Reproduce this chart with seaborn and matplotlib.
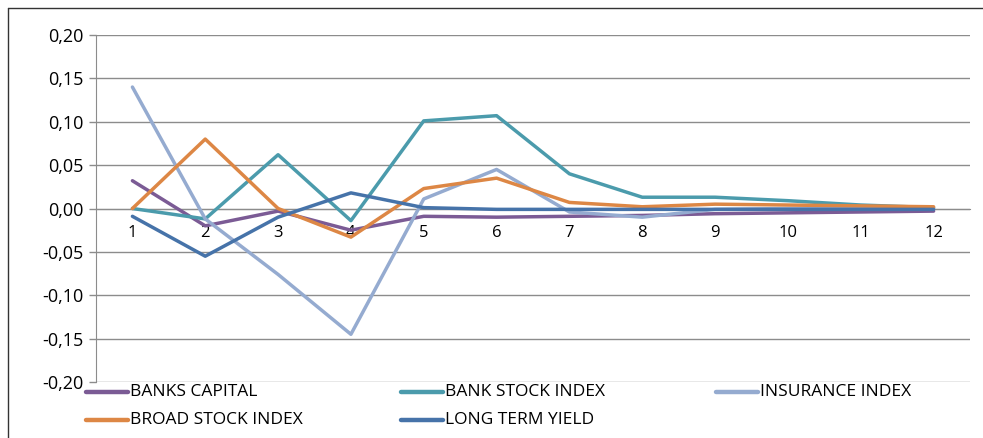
import pandas as pd
import matplotlib
matplotlib.use('Agg')
import matplotlib.pyplot as plt
from matplotlib.ticker import FuncFormatter, FixedLocator
from matplotlib.lines import Line2D
import seaborn as sns

# Data
periods = list(range(1, 13))
banks_capital = [0.032, -0.020, -0.003, -0.025, -0.009, -0.010, -0.009, -0.008, -0.006, -0.005, -0.004, -0.003]
bank_stock_index = [0.000, -0.012, 0.062, -0.014, 0.101, 0.107, 0.040, 0.013, 0.013, 0.009, 0.004, 0.001]
insurance_index = [0.140, -0.012, -0.076, -0.145, 0.011, 0.045, -0.004, -0.010, -0.001, 0.000, 0.000, 0.000]
broad_stock_index = [0.000, 0.080, 0.000, -0.033, 0.023, 0.035, 0.007, 0.002, 0.005, 0.004, 0.003, 0.002]
long_term_yield = [-0.009, -0.055, -0.010, 0.018, 0.001, -0.001, -0.001, -0.001, -0.001, -0.001, -0.001, -0.001]

series_names = ['BANKS CAPITAL', 'BANK STOCK INDEX', 'INSURANCE INDEX', 'BROAD STOCK INDEX', 'LONG TERM YIELD']
series_values = [banks_capital, bank_stock_index, insurance_index, broad_stock_index, long_term_yield]
colors = ['#7B5B95', '#4B9BAC', '#95ABD0', '#DD8745', '#4673A9']

df = pd.concat([
    pd.DataFrame({'Period': periods, 'Value': vals, 'Series': name})
    for name, vals in zip(series_names, series_values)
])

sns.set_style('white')
plt.rcParams['font.family'] = ['Open Sans', 'DejaVu Sans']
plt.rcParams['text.color'] = 'black'
plt.rcParams['xtick.color'] = 'black'
plt.rcParams['ytick.color'] = 'black'

W, H = 983, 438
fig = plt.figure(figsize=(W / 100, H / 100), dpi=100)
ax = fig.add_axes([96 / W, 1 - 382 / H, 874 / W, 347 / H])

grid_col = '#8C8C8C'
sns.lineplot(data=df, x='Period', y='Value', hue='Series', palette=dict(zip(series_names, colors)),
             hue_order=series_names, linewidth=2.5, ax=ax, legend=False, zorder=3)

ax.set_xlim(0.5, 12.5)
ax.set_ylim(-0.20, 0.20)
ax.set_yticks([-0.20, -0.15, -0.10, -0.05, 0.0, 0.05, 0.10, 0.15, 0.20])
ax.yaxis.set_major_formatter(FuncFormatter(lambda v, p: f'{v:.2f}'.replace('.', ',').replace('-0,00', '0,00')))
ax.grid(axis='y', color=grid_col, linewidth=1.0)
ax.set_axisbelow(True)

# x axis sits on the zero line, ticks between categories
ax.spines['bottom'].set_position(('data', 0))
ax.spines['bottom'].set_color(grid_col)
ax.spines['left'].set_color(grid_col)
ax.spines['top'].set_visible(False)
ax.spines['right'].set_visible(False)
ax.xaxis.set_major_locator(FixedLocator([p + 0.5 for p in periods]))
ax.xaxis.set_minor_locator(FixedLocator(periods))
ax.xaxis.set_major_formatter(FuncFormatter(lambda v, p: ''))
ax.xaxis.set_minor_formatter(FuncFormatter(lambda v, p: f'{int(round(v))}'))
ax.tick_params(axis='x', which='major', direction='in', length=5, color=grid_col, width=1)
ax.tick_params(axis='x', which='minor', length=0, labelsize=12, pad=12)
ax.tick_params(axis='y', direction='out', length=5, color=grid_col, width=1, labelsize=13, left=True, pad=4)
ax.set_xlabel('')
ax.set_ylabel('')

# legend entries laid out in a 3-column grid, row by row
col_x = [86, 401, 716]
row_y = [392, 420]
for i, (name, c) in enumerate(zip(series_names, colors)):
    x0 = col_x[i % 3]
    y0 = 1 - row_y[i // 3] / H
    fig.add_artist(Line2D([x0 / W, (x0 + 42) / W], [y0, y0], color=c, linewidth=3.2,
                          solid_capstyle='round', transform=fig.transFigure))
    fig.text((x0 + 44) / W, y0, name, fontsize=12.5, va='center', ha='left')

# outer chart frame
fig.add_artist(Line2D([8 / W, 8 / W], [0, 1 - 8 / H], color='#333333', linewidth=1, transform=fig.transFigure))
fig.add_artist(Line2D([8 / W, 1], [1 - 8 / H, 1 - 8 / H], color='#333333', linewidth=1, transform=fig.transFigure))

fig.savefig('out.png', dpi=100)
